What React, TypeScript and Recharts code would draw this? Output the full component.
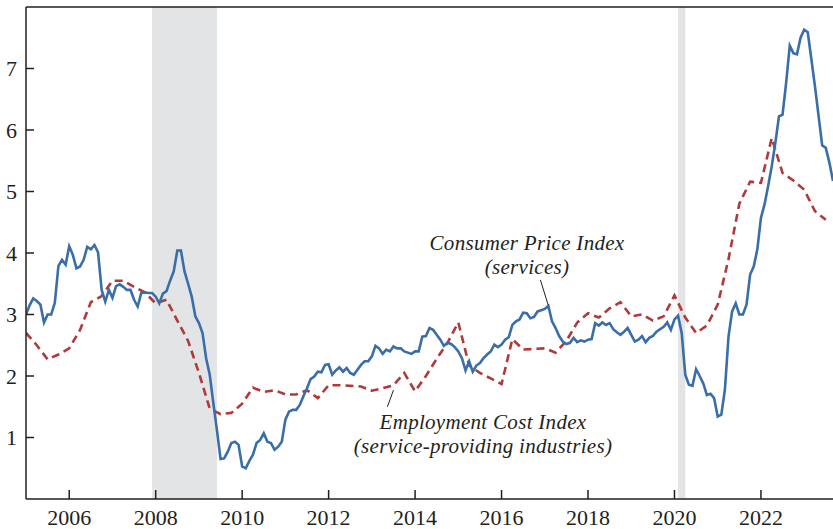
import React from "react";
import {
  LineChart,
  Line,
  XAxis,
  YAxis,
  ReferenceArea,
  ReferenceLine,
} from "recharts";

// CPI services, 12-month % change, monthly from Jan 2005
const cpiStart = 2005;
const cpiServices = [
  3.0, 3.15, 3.26, 3.22, 3.16, 2.87, 3.0, 3.0, 3.19, 3.79, 3.89, 3.81,
  4.11, 3.97, 3.75, 3.78, 3.89, 4.1, 4.06, 4.13, 4.01, 3.4, 3.21, 3.4,
  3.27, 3.46, 3.49, 3.45, 3.4, 3.4, 3.24, 3.13, 3.35, 3.36, 3.35, 3.35,
  3.29, 3.18, 3.34, 3.38, 3.55, 3.7, 4.04, 4.04, 3.7, 3.5, 3.29, 2.97,
  2.86, 2.7, 2.29, 2.02, 1.56, 1.12, 0.65, 0.66, 0.77, 0.91, 0.93, 0.88,
  0.53, 0.5, 0.62, 0.72, 0.91, 0.96, 1.07, 0.93, 0.91, 0.8, 0.85, 0.93,
  1.29, 1.42, 1.45, 1.45, 1.53, 1.67, 1.8, 1.95, 1.99, 2.07, 2.06, 2.18,
  2.19, 2.02, 2.09, 2.14, 2.07, 2.13, 2.05, 2.02, 2.1, 2.18, 2.24, 2.24,
  2.32, 2.49, 2.45, 2.36, 2.43, 2.4, 2.48, 2.45, 2.45, 2.4, 2.38, 2.36,
  2.4, 2.4, 2.64, 2.65, 2.78, 2.75, 2.67, 2.59, 2.49, 2.54, 2.52, 2.47,
  2.4, 2.29, 2.09, 2.24, 2.07, 2.17, 2.21, 2.29, 2.35, 2.4, 2.51, 2.47,
  2.51, 2.59, 2.63, 2.83, 2.89, 2.92, 3.03, 3.02, 2.94, 2.96, 3.05, 3.07,
  3.09, 3.14, 2.89, 2.78, 2.65, 2.56, 2.52, 2.54, 2.62, 2.55, 2.58, 2.56,
  2.59, 2.6, 2.86, 2.82, 2.87, 2.83, 2.86, 2.76, 2.71, 2.67, 2.72, 2.78,
  2.67, 2.56, 2.59, 2.65, 2.55, 2.62, 2.65, 2.72, 2.76, 2.8, 2.87, 2.75,
  2.92, 2.98, 2.7, 2.02, 1.86, 1.84, 2.11, 2.0, 1.88, 1.69, 1.71, 1.64,
  1.34, 1.37, 1.78, 2.64, 3.05, 3.18, 3.0, 3.0, 3.16, 3.65, 3.78, 4.06,
  4.57, 4.79, 5.09, 5.41, 5.79, 6.22, 6.25, 6.77, 7.37, 7.25, 7.23, 7.5,
  7.63, 7.59, 7.15, 6.71, 6.23, 5.75, 5.71, 5.47, 5.17,
];

// ECI service-providing industries, 12-month % change, quarterly from 2005
const eciStart = 2005;
const eciServices = [
  2.7, 2.5, 2.27, 2.35,
  2.45, 2.75, 3.2, 3.3,
  3.55, 3.55, 3.45, 3.36,
  3.18, 3.24, 2.9, 2.57,
  2.05, 1.47, 1.38, 1.4,
  1.55, 1.81, 1.74, 1.77,
  1.7, 1.7, 1.77, 1.64,
  1.85, 1.85, 1.84, 1.83,
  1.76, 1.8, 1.85, 2.05,
  1.75, 2.0, 2.28, 2.54,
  2.87, 2.17, 2.05, 1.96,
  1.87, 2.6, 2.43, 2.44,
  2.45, 2.38, 2.57, 2.87,
  3.02, 2.95, 3.1, 3.2,
  2.97, 3.0, 2.9, 2.97,
  3.31, 2.95, 2.7, 2.82,
  3.16, 3.9, 4.8, 5.16,
  5.14, 5.87, 5.3, 5.18,
  5.03, 4.68, 4.54,
];

const yearTicks = [2006, 2008, 2010, 2012, 2014, 2016, 2018, 2020, 2022];
const valueTicks = [1, 2, 3, 4, 5, 6, 7];
const recessionStarts = [2007.917, 2020.083];
const recessionEnds = [2009.417, 2020.25];

const cpiData = cpiServices.map((v, i) => ({ t: cpiStart + i / 12, v }));
const eciData = eciServices.map((v, i) => ({ t: eciStart + i / 4, v }));

const INK = "#231f20";
const FONT = "'Liberation Serif', 'Times New Roman', serif";

const XTick = (props: any) => {
  const { x, y, payload } = props;
  return (
    <g>
      <line x1={x} x2={x} y1={y} y2={y - 9} stroke={INK} strokeWidth={1.5} />
      <text x={x} y={y + 26} textAnchor="middle" fill={INK} fontFamily={FONT} fontSize={22}>
        {payload.value}
      </text>
    </g>
  );
};

const YTick = (props: any) => {
  const { x, y, payload } = props;
  return (
    <g>
      <line x1={x} x2={x + 8} y1={y} y2={y} stroke={INK} strokeWidth={1.5} />
      <text x={x - 9} y={y + 7.5} textAnchor="end" fill={INK} fontFamily={FONT} fontSize={22}>
        {payload.value}
      </text>
    </g>
  );
};

const labelStyle: React.CSSProperties = {
  position: "absolute",
  fontFamily: FONT,
  fontStyle: "italic",
  fontSize: 21,
  letterSpacing: 0.3,
  color: INK,
  whiteSpace: "nowrap",
  textAlign: "center",
  transform: "translateX(-50%)",
  lineHeight: "24px",
};

export default function App() {
  return (
    <div style={{ position: "absolute", left: 0, top: 0, width: 833, height: 529, background: "#fff" }}>
      <LineChart
        width={833}
        height={529}
        margin={{ top: 7, right: 0, bottom: 0, left: 0 }}
      >
        <XAxis
          dataKey="t"
          type="number"
          domain={[2005, 2023.667]}
          ticks={yearTicks}
          allowDataOverflow
          height={30}
          tickSize={0}
          tickMargin={0}
          tick={<XTick />}
          axisLine={{ stroke: INK, strokeWidth: 1.5 }}
          tickLine={false}
        />
        <YAxis
          type="number"
          domain={[0, 8]}
          ticks={valueTicks}
          allowDataOverflow
          width={26}
          tickSize={0}
          tickMargin={0}
          tick={<YTick />}
          axisLine={{ stroke: INK, strokeWidth: 1.5 }}
          tickLine={false}
        />
        {recessionStarts.map((s, i) => (
          <ReferenceArea
            key={s}
            x1={s}
            x2={recessionEnds[i]}
            y1={0}
            y2={8}
            fill="#e3e4e6"
            fillOpacity={1}
            stroke="none"
          />
        ))}
        <ReferenceLine y={8} stroke={INK} strokeWidth={1.5} />
        <Line
          data={eciData}
          dataKey="v"
          type="linear"
          stroke="#b03a3a"
          strokeWidth={2.6}
          strokeDasharray="8 5"
          dot={false}
          isAnimationActive={false}
        />
        <Line
          data={cpiData}
          dataKey="v"
          type="linear"
          stroke="#3a6ea8"
          strokeWidth={2.6}
          dot={false}
          isAnimationActive={false}
        />
        <ReferenceLine
          segment={[{ x: 2016.9, y: 3.56 }, { x: 2017.08, y: 3.15 }]}
          stroke={INK}
          strokeWidth={1}
        />
        <ReferenceLine
          segment={[{ x: 2013.36, y: 1.5 }, { x: 2013.5, y: 1.77 }]}
          stroke={INK}
          strokeWidth={1}
        />
      </LineChart>
      <div style={{ ...labelStyle, left: 527, top: 231 }}>
        Consumer Price Index
        <br />
        (services)
      </div>
      <div style={{ ...labelStyle, left: 483, top: 410 }}>
        Employment Cost Index
        <br />
        (service-providing industries)
      </div>
    </div>
  );
}
